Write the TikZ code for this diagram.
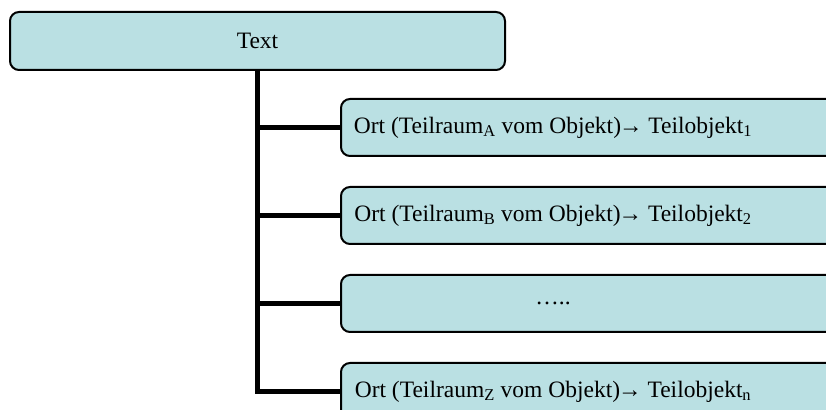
\documentclass[tikz,border=0pt]{standalone}
\usepackage{fontspec}
\setmainfont{Liberation Serif}
\usetikzlibrary{positioning}
\definecolor{boxblue}{RGB}{186,224,227}

\begin{document}
\begin{tikzpicture}[x=1pt, y=1pt,
		font=\fontsize{23.5}{28}\selectfont,
		head/.style={draw, line width=2pt, fill=boxblue, rounded corners=9pt,
			minimum width=495pt, minimum height=58pt},
		ort/.style={draw, line width=2pt, fill=boxblue, rounded corners=9pt,
			minimum width=600pt, minimum height=57pt, anchor=west},
		branch/.style={line width=5pt}]
		\clip (0,0) rectangle (826,409);
		\coordinate (mid) at (553,0);
		\node[head] (text) at (257.5,368) {Text};
		\node[ort] (b1) at (340,281.5) {};
		\node[ort, below=29pt of b1] (b2) {};
		\node[ort, below=29pt of b2] (b3) {};
		\node[ort, below=29pt of b3] (b4) {};
		\node (t1) at (b1 -| mid) {Ort (Teilraum\textsubscript{A} vom Objekt)\kern-2pt→ Teilobjekt\textsubscript{1}};
		\node (t2) at (b2 -| mid) {Ort (Teilraum\textsubscript{B} vom Objekt)\kern-2pt→ Teilobjekt\textsubscript{2}};
		\node (t3) at (b3 -| mid) {…..};
		\node (t4) at (b4 -| mid) {Ort (Teilraum\textsubscript{Z} vom Objekt)\kern-2pt→ Teilobjekt\textsubscript{n}};
		% tree lines
		\draw[branch] (text.south) |- (b4.west);
		\foreach \i in {1,2,3}
			\draw[branch] (text.south |- b\i.west) -- (b\i.west);
	\end{tikzpicture}
\end{document}
